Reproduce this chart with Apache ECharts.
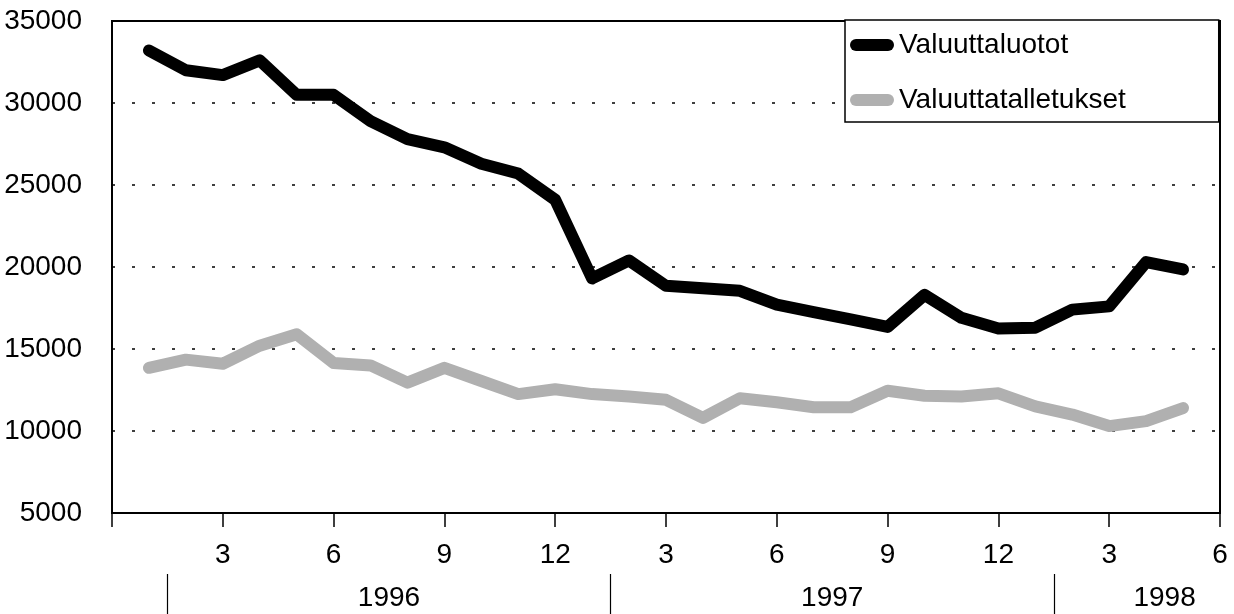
<!DOCTYPE html>
<html>
<head>
<meta charset="utf-8">
<script src="https://cdn.jsdelivr.net/npm/echarts@6/dist/echarts.min.js"></script>
<style>
html,body{margin:0;padding:0;background:#fff;}
#chart{width:1234px;height:614px;}
</style>
</head>
<body>
<div id="chart"></div>
<script>
// Monthly observations (positions 1..29 on the month axis)
const seriesNames = ['Valuuttaluotot', 'Valuuttatalletukset'];
const loans = [33200, 32000, 31700, 32600, 30500, 30500, 28900, 27800, 27300, 26300, 25700, 24100,
               19300, 20400, 18850, 18700, 18550, 17700, 17250, 16800, 16350, 18300, 16900, 16250,
               16300, 17400, 17600, 20300, 19850];
const deposits = [13850, 14350, 14100, 15200, 15900, 14150, 14000, 12950, 13850, 13050, 12250, 12550,
                  12250, 12100, 11900, 10800, 12000, 11750, 11450, 11450, 12450, 12150, 12100, 12300,
                  11500, 11000, 10300, 10600, 11400];
// Month tick labels at positions 0,3,6,...,30
const monthTickLabels = ['', '3', '6', '9', '12', '3', '6', '9', '12', '3', '6'];
// Year labels and the boundaries between years (positions on the month axis)
const years = ['1996', '1997', '1998'];
const yearCenters = [7.5, 19.5, 28.5];
const yearBoundaries = [1.5, 13.5, 25.5];

const FONT = "'Liberation Sans', Arial, sans-serif";
const FS = 28;

const chart = echarts.init(document.getElementById('chart'));
const toPoints = arr => arr.map((v, i) => [i + 1, v]);
const pill = 'path://M6,0 H38 A6,6 0 0 1 38,12 H6 A6,6 0 0 1 6,0 Z';

chart.setOption({
  animation: false,
  backgroundColor: '#fff',
  grid: {
    left: 112, right: 14, top: 21, bottom: 101,
    show: true, borderColor: '#000', borderWidth: 2,
    containLabel: false, outerBoundsMode: 'none'
  },
  legend: {
    orient: 'vertical',
    left: 845, top: 20,
    padding: [10, 93, 7, 5],
    itemGap: 25,
    itemWidth: 44, itemHeight: 12,
    backgroundColor: '#fff',
    borderColor: '#000', borderWidth: 1.5,
    textStyle: { fontFamily: FONT, fontSize: FS, color: '#000', lineHeight: 30 },
    data: [
      { name: seriesNames[0], icon: pill, itemStyle: { color: '#000' } },
      { name: seriesNames[1], icon: pill, itemStyle: { color: '#b0b0b0' } }
    ],
    z: 10
  },
  xAxis: [
    {
      type: 'value', min: 0, max: 30, interval: 3,
      axisLine: { show: true, lineStyle: { color: '#000', width: 2 } },
      axisTick: { show: true, length: 14, lineStyle: { color: '#000', width: 1.5 } },
      splitLine: { show: false },
      axisLabel: {
        margin: 28, fontFamily: FONT, fontSize: FS, color: '#000',
        formatter: v => monthTickLabels[Math.round(v / 3)] || ''
      }
    },
    {
      type: 'value', min: 0, max: 30, position: 'bottom', offset: 61,
      axisLine: { show: false },
      axisTick: { show: true, length: 42, customValues: yearBoundaries, lineStyle: { color: '#000', width: 1.2 } },
      splitLine: { show: false },
      axisLabel: {
        margin: 10, fontFamily: FONT, fontSize: FS, color: '#000',
        customValues: yearCenters,
        formatter: v => years[yearCenters.indexOf(v)] || ''
      }
    }
  ],
  yAxis: {
    type: 'value', min: 5000, max: 35000, interval: 5000,
    axisLine: { show: true, lineStyle: { color: '#000', width: 2 } },
    axisTick: { show: false },
    splitLine: { show: true, lineStyle: { color: '#000', width: 1.5, type: [3, 17] } },
    axisLabel: { margin: 30, fontFamily: FONT, fontSize: FS, color: '#000', formatter: v => String(v) }
  },
  series: [
    {
      name: seriesNames[0], type: 'line', xAxisIndex: 0, data: toPoints(loans),
      showSymbol: false, symbol: 'none',
      lineStyle: { color: '#000', width: 12, cap: 'round', join: 'round' },
      itemStyle: { color: '#000' }
    },
    {
      name: seriesNames[1], type: 'line', xAxisIndex: 0, data: toPoints(deposits),
      showSymbol: false, symbol: 'none',
      lineStyle: { color: '#b0b0b0', width: 12, cap: 'round', join: 'round' },
      itemStyle: { color: '#b0b0b0' }
    }
  ]
});
</script>
</body>
</html>
